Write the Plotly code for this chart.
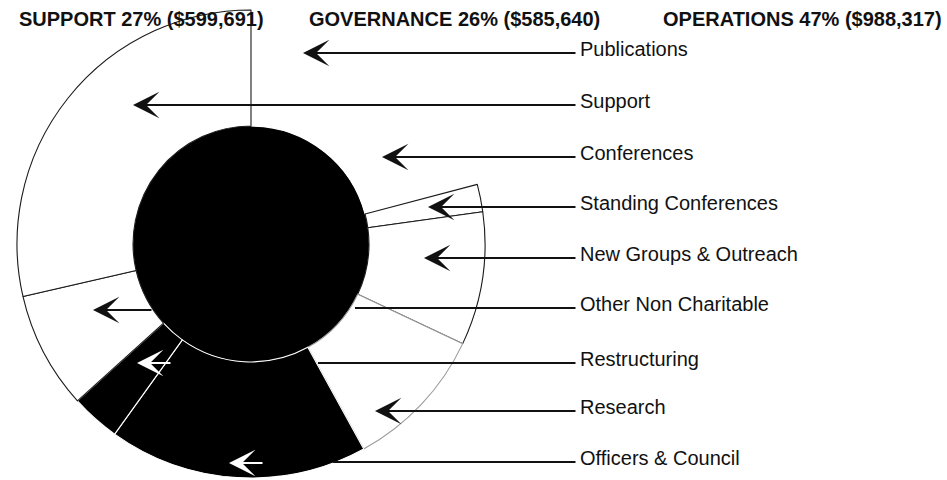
import plotly.graph_objects as go

# ---------------- data ----------------
slice_names = ["Publications", "Conferences", "Standing Conferences",
               "New Groups & Outreach", "Research", "Officers & Council",
               "Restructuring", "Other Non Charitable", "Support"]
slice_share = [10.6, 10.3, 1.9, 9.2, 10.0, 17.9, 3.4, 8.1, 28.6]   # % of ring (estimated)

group_names = ["SUPPORT", "GOVERNANCE", "OPERATIONS"]
group_pct = [27, 26, 47]
group_amount = [599691, 585640, 988317]

label_names = ["Publications", "Support", "Conferences", "Standing Conferences",
               "New Groups & Outreach", "Other Non Charitable", "Restructuring",
               "Research", "Officers & Council"]

# ---------------- styling / layout helpers ----------------
W, H = 947, 480
CX, CY, R = 251, 244, 234
HOLE = 0.504

fill_map = {"Officers & Council": "#000000", "Restructuring": "#000000"}
edge_map = {"Publications": "#ffffff", "Conferences": "#ffffff",
            "Research": "#9a9a9a", "Officers & Council": "#ffffff",
            "Restructuring": "#ffffff"}
fill = [fill_map.get(n, "#ffffff") for n in slice_names]
edge = [edge_map.get(n, "#1a1a1a") for n in slice_names]

fig = go.Figure()

# invisible pixel-space axes for annotations / shapes
fig.add_trace(go.Scatter(x=[0, W], y=[0, H], mode="markers",
                         marker=dict(opacity=0), hoverinfo="skip", showlegend=False))

fig.add_trace(go.Pie(
    labels=slice_names, values=slice_share, sort=False, direction="clockwise",
    rotation=0, hole=HOLE, textinfo="none", showlegend=False,
    marker=dict(colors=fill, line=dict(color=edge, width=1.1)),
    domain=dict(x=[(CX - R) / W, (CX + R) / W], y=[(H - CY - R) / H, (H - CY + R) / H]),
))

# black centre disc
r_in = R * HOLE
fig.add_shape(type="circle", xref="x", yref="y", layer="below",
              x0=CX - r_in, x1=CX + r_in, y0=CY - r_in, y1=CY + r_in,
              fillcolor="#000000", line=dict(color="#000000", width=0))

# headers
font_main = "Liberation Sans, Arial, sans-serif"
hdr_x = [141, 454, 944]
hdr_anchor = ["center", "center", "right"]
for g, p, a, x, anc in zip(group_names, group_pct, group_amount, hdr_x, hdr_anchor):
    fig.add_annotation(x=x, y=19, xref="x", yref="y", showarrow=False,
                       text=f"<b>{g} {p}% (${a:,})</b>", xanchor=anc, yanchor="middle",
                       font=dict(family=font_main, size=20, color="#111111"))

# right-hand labels and leader arrows
line_y = [53, 105, 157, 207, 258, 308, 363, 411, 462]
tip_x = [303, 133, 382, 428, 424, 355, 318, 375, 333]
has_head = [True, True, True, True, True, False, False, True, False]
for name, y, tx, hh in zip(label_names, line_y, tip_x, has_head):
    fig.add_annotation(x=578, y=y - 4, xref="x", yref="y", showarrow=False,
                       text=name, xanchor="left", yanchor="middle",
                       font=dict(family=font_main, size=20, color="#111111"))
    fig.add_annotation(x=tx, y=y, ax=577, ay=y, xref="x", yref="y", axref="x", ayref="y",
                       text="", showarrow=True, arrowhead=3 if hh else 0,
                       arrowsize=2.2, arrowwidth=2, arrowcolor="#111111", standoff=0)

# extra arrow heads: left segment (black) and inside dark slices (white)
extra = [(93, 310, 153, "#111111"), (137, 363, 172, "#ffffff"), (229, 463, 264, "#ffffff")]
for tx, y, tail, col in extra:
    fig.add_annotation(x=tx, y=y, ax=tail, ay=y, xref="x", yref="y", axref="x", ayref="y",
                       text="", showarrow=True, arrowhead=3, arrowsize=2.2,
                       arrowwidth=2, arrowcolor=col, standoff=0)

fig.update_layout(
    width=W, height=H, margin=dict(l=0, r=0, t=0, b=0),
    paper_bgcolor="white", plot_bgcolor="rgba(0,0,0,0)",
    xaxis=dict(range=[0, W], visible=False, fixedrange=True, domain=[0, 1]),
    yaxis=dict(range=[H, 0], visible=False, fixedrange=True, domain=[0, 1]),
    hovermode=False,
)

fig.write_html("out.html", config={"displayModeBar": False},
               post_script="document.body.style.margin='0';document.body.style.overflow='hidden';")
